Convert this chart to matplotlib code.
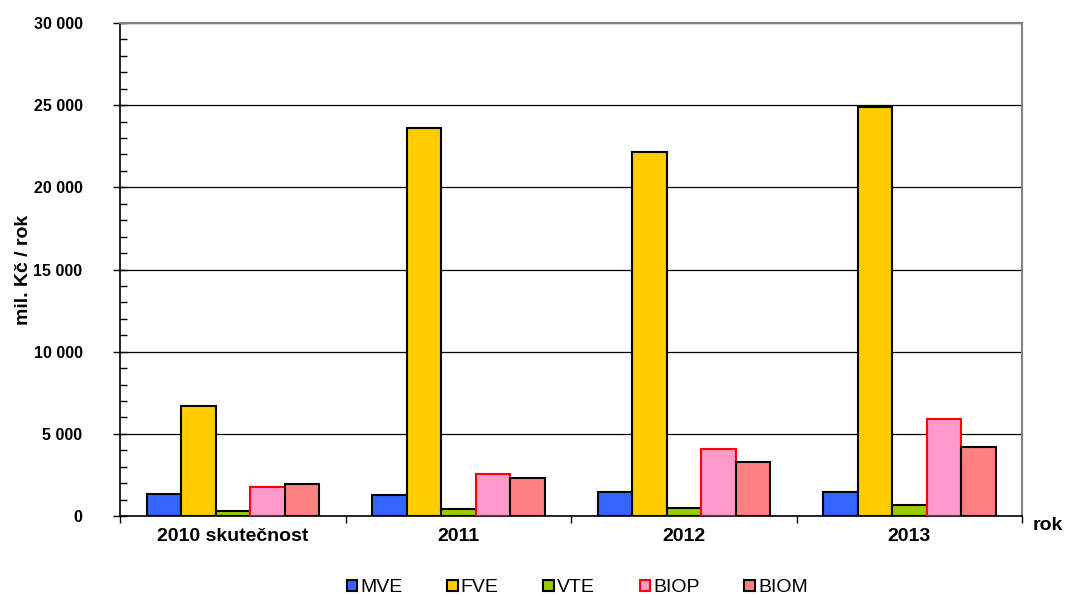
import numpy as np
import matplotlib.pyplot as plt
from matplotlib.ticker import MultipleLocator, FuncFormatter

plt.rcParams['font.family'] = ['Liberation Sans', 'DejaVu Sans']

years = ["2010 skutečnost", "2011", "2012", "2013"]
series = ["MVE", "FVE", "VTE", "BIOP", "BIOM"]
mve = [1340, 1280, 1480, 1480]
fve = [6710, 23630, 22150, 24890]
vte = [325, 445, 490, 670]
biop = [1745, 2575, 4080, 5890]
biom = [1970, 2290, 3300, 4180]
values = [mve, fve, vte, biop, biom]

fills = ["#3366FF", "#FFCC00", "#99CC00", "#FF99CC", "#FF8080"]
edges = ["black", "black", "black", "#FF0000", "black"]

fig = plt.figure(figsize=(10.67, 5.95), dpi=100)
ax = fig.add_axes([0.1125, 0.1328, 0.8455, 0.8285])

x = np.arange(len(years))
w = 0.153
for i, (name, vals) in enumerate(zip(series, values)):
    ax.bar(x + (i - 2) * w, vals, width=w, color=fills[i], edgecolor=edges[i],
           linewidth=1.5, label=name, zorder=3)

ax.set_xlim(-0.5, len(years) - 0.5)
ax.set_ylim(0, 30000)
ax.yaxis.set_major_locator(MultipleLocator(5000))
ax.yaxis.set_minor_locator(MultipleLocator(1000))
ax.yaxis.set_major_formatter(FuncFormatter(lambda v, p: f"{int(v):,}".replace(",", " ")))
ax.grid(axis="y", which="major", color="black", lw=0.9, zorder=1)

# category labels centred, separator ticks between groups
ax.set_xticks(x)
ax.set_xticklabels(years, fontsize=14, fontweight="bold")
ax.tick_params(axis="x", which="major", length=0, pad=9)
ax.set_xticks(np.arange(-0.5, len(years)), minor=True)
ax.tick_params(axis="x", which="minor", length=5, direction="out", width=1)

ax.tick_params(axis="y", which="major", direction="inout", length=10, width=1,
               labelsize=11.5, pad=22)
ax.tick_params(axis="y", which="minor", direction="in", length=5, width=1)
for lbl in ax.get_yticklabels():
    lbl.set_fontweight("bold")

for s in ["top", "right"]:
    ax.spines[s].set_color("#808080")
    ax.spines[s].set_linewidth(1.5)
for s in ["left", "bottom"]:
    ax.spines[s].set_color("black")
    ax.spines[s].set_linewidth(1.2)

ax.set_ylabel("mil. Kč / rok", fontsize=14, fontweight="bold")
ax.yaxis.set_label_coords(-0.098, 0.5)
fig.text(0.968, 0.116, "rok", fontsize=14, fontweight="bold", ha="left", va="center")

fig.legend(loc="center", bbox_to_anchor=(0.541, 0.012), ncol=5, frameon=False,
           fontsize=14, handlelength=0.55, handleheight=0.55, handletextpad=0.15,
           columnspacing=2.3)

fig.savefig("out.png", dpi=100)
